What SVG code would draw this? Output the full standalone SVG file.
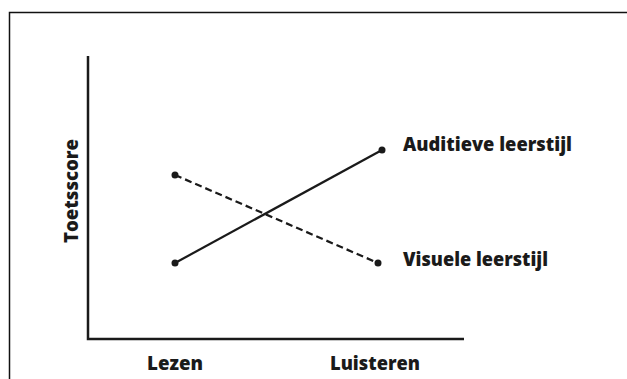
<svg xmlns="http://www.w3.org/2000/svg" width="627" height="379" viewBox="0 0 627 379">
  <style>
    .lbl { font-family: "Open Sans", Lato, "Liberation Sans", sans-serif; font-weight: 800; font-size: 19px; fill: #1a1a1a; font-variant-ligatures: none; }
    .axis { stroke: #1a1a1a; stroke-width: 2.5; fill: none; }
    .series { stroke: #1a1a1a; stroke-width: 2.2; fill: none; }
    .dot { fill: #1a1a1a; }
  </style>
  <rect width="627" height="379" fill="#ffffff"/>
  <!-- outer frame (open to the right and bottom) -->
  <path d="M9.5 379 V12.5 H627" fill="none" stroke="#111" stroke-width="1.5"/>
  <g id="axes">
    <path class="axis" d="M88 56 V339 H464"/>
  </g>
  <g id="axis-labels">
    <text class="lbl" x="147" y="370" textLength="56" lengthAdjust="spacingAndGlyphs">Lezen</text>
    <text class="lbl" x="330" y="370" textLength="90" lengthAdjust="spacingAndGlyphs">Luisteren</text>
    <text class="lbl" transform="translate(78 243) rotate(-90)" textLength="104" lengthAdjust="spacingAndGlyphs">Toetsscore</text>
  </g>
  <g id="connectors">
    <line class="series" x1="175" y1="263" x2="382" y2="150"/>
    <line class="series" x1="175" y1="175" x2="378" y2="263" stroke-dasharray="7 4"/>
  </g>
  <g id="points">
    <circle class="dot" cx="175" cy="263" r="3.5"/>
    <circle class="dot" cx="382" cy="150" r="3.5"/>
    <circle class="dot" cx="175" cy="175" r="3.5"/>
    <circle class="dot" cx="378" cy="263" r="3.5"/>
  </g>
  <g id="series-labels">
    <text class="lbl" x="403" y="151" textLength="169" lengthAdjust="spacingAndGlyphs">Auditieve leerstijl</text>
    <text class="lbl" x="403" y="266" textLength="145" lengthAdjust="spacingAndGlyphs">Visuele leerstijl</text>
  </g>
</svg>
